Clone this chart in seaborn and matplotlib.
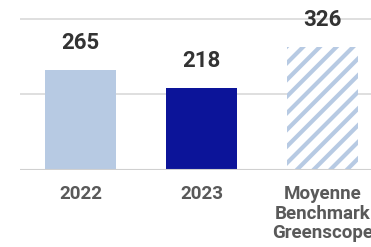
import matplotlib
matplotlib.use("Agg")
import matplotlib.pyplot as plt
import seaborn as sns
import pandas as pd

categories = ["2022", "2023", "Moyenne\nBenchmark\nGreenscope"]
values = [265, 218, 326]
colors = ["#b7cae3", "#0c1499", "#ffffff"]
yticks = [0, 200, 400]

sns.set_theme(style="white")
plt.rcParams["font.family"] = ["Roboto", "DejaVu Sans"]
plt.rcParams["hatch.linewidth"] = 3.0

df = pd.DataFrame({"cat": categories, "val": values})

fig = plt.figure(figsize=(3.71, 2.47), dpi=100)
W, H = 371, 247
left, bottom_px, top_px = 20, 170, 0
ax = fig.add_axes([left / W, 1 - bottom_px / H, (W - left) / W, (bottom_px - top_px) / H])

sns.barplot(data=df, x="cat", y="val", hue="cat", palette=colors, legend=False,
            width=0.595, ax=ax, saturation=1)

bars = ax.patches
bars[2].set_hatch("//")
bars[2].set_edgecolor("#b7cae3")
for b in bars:
    b.set_linewidth(0)
bars[2].set_facecolor("white")

for i, v in enumerate(values):
    ax.text(i, v + 70, str(v), ha="center", va="center", fontsize=16,
            fontweight="bold", color="#333333")

ax.set_xlim(-0.5, (W - left) / 121 - 0.5)
ax.set_ylim(0, 450)
ax.set_yticks(yticks)
ax.set_yticklabels([])
ax.tick_params(axis="y", length=0)
ax.yaxis.grid(True, color="#d9d9d9", linewidth=1.2)
ax.set_axisbelow(True)
ax.set_xlabel("")
ax.set_ylabel("")
for s in ax.spines.values():
    s.set_visible(False)
ax.axhline(0, color="#d0d0d0", linewidth=1.5, zorder=3)
ax.tick_params(axis="x", length=0, pad=11)
for lab in ax.get_xticklabels():
    lab.set_fontsize(13.5)
    lab.set_fontweight("bold")
    lab.set_color("#595959")
    lab.set_linespacing(1.1)
    lab.set_va("top")

fig.savefig("out.png", dpi=100)
